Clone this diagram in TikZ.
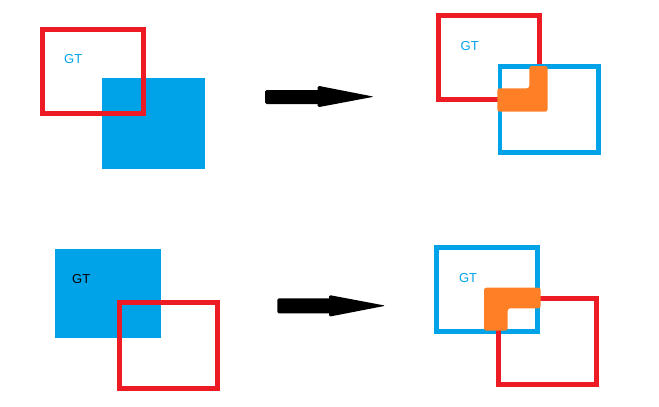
\documentclass[tikz,border=0pt]{standalone}
\usepackage{fontspec}
\setmainfont{Liberation Sans}
\definecolor{pred}{HTML}{ED1C24}
\definecolor{pblue}{HTML}{00A2E8}
\definecolor{porange}{HTML}{FF7F27}
\begin{document}
\begin{tikzpicture}[x=1pt,y=-1pt,
  redbox/.style={draw=pred,line width=5pt},
  bluebox/.style={draw=pblue,line width=5pt},
  bluefill/.style={fill=pblue},
  overlap/.style={fill=porange,rounded corners=2.5pt},
  arrowshape/.style={fill=black,rounded corners=1.5pt},
  lbl/.style={font=\fontsize{13}{15}\selectfont,inner sep=0pt,anchor=west}]
\useasboundingbox (0,0) rectangle (659,407);
% top-left
\fill[bluefill] (101.7,77.7) rectangle (205,169);
\draw[redbox] (42.5,29.2) rectangle (143.2,113.2);
\node[lbl,text=pblue] (gt1) at (64,59) {GT};
% top arrow
\path[arrowshape] (265,90) rectangle (321,104);
\path[arrowshape] (317.7,85.7) -- (374,96.7) -- (317.7,107.3) -- cycle;
% top-right
\draw[redbox,line width=4.7pt] (438.3,15.6) rectangle (539.3,99.4);
\draw[bluebox,line width=4.7pt] (500,66.3) rectangle (598.7,152.7);
\path[overlap] (529.3,66) -- (547.7,66) -- (547.7,111.7) -- (497.3,111.7) -- (497.3,88.3) -- (529.3,88.3) -- cycle;
\node[lbl,text=pblue] (gt2) at (460.5,45.8) {GT};
% bottom-left
\fill[bluefill] (55,249) rectangle (160.7,337.7);
\draw[redbox] (119.8,302.5) rectangle (217.5,388.2);
\node[lbl,text=black] (gt3) at (72,278.8) {GT};
% bottom arrow
\path[arrowshape] (277.3,298.3) rectangle (332.5,313.3);
\path[arrowshape] (329,295) -- (385.7,305.7) -- (329,316.7) -- cycle;
% bottom-right
\draw[bluebox] (436.5,247.5) rectangle (537.5,331.5);
\draw[redbox,line width=4.7pt] (498.3,298.3) rectangle (596.7,384.3);
\path[overlap] (484,287.7) -- (540.7,287.7) -- (540.7,308.3) -- (507.7,308.3) -- (507.7,330.7) -- (484,330.7) -- cycle;
\node[lbl,text=pblue] (gt4) at (458.8,277.8) {GT};
\end{tikzpicture}
\end{document}
